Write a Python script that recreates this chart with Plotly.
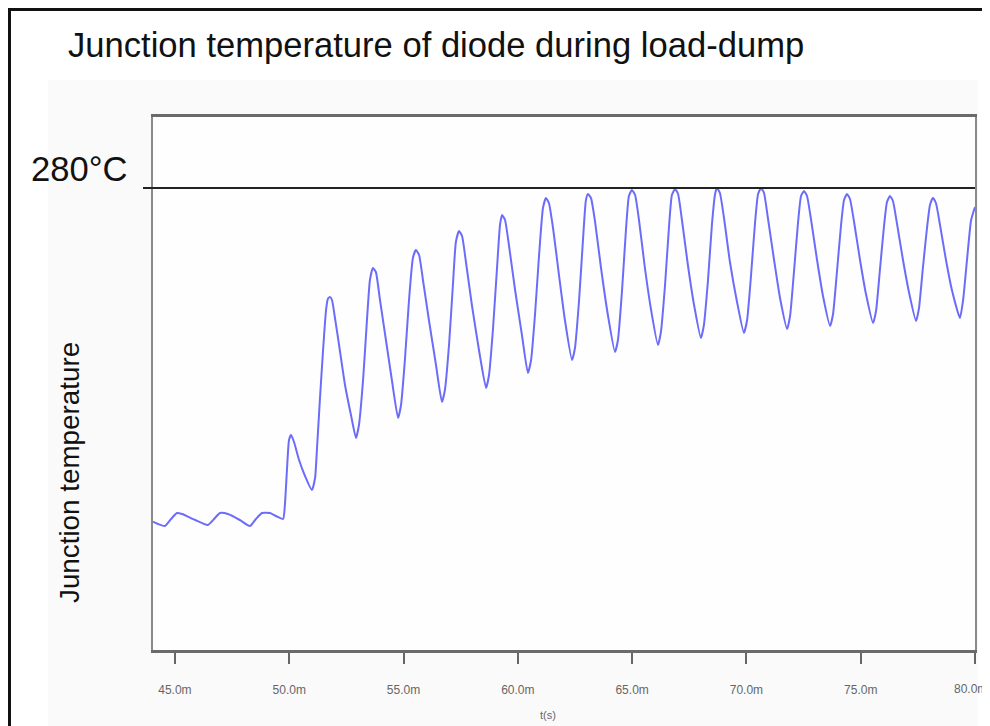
import plotly.graph_objects as go

# time in ms, junction temperature in degC (only the 280 degC level is labelled in the source)
time_ms = [
    44.04, 44.26, 44.56, 44.83, 45.09, 45.31, 45.88, 46.44, 46.71, 46.97, 47.32, 47.84, 48.28, 48.54, 48.81, 49.16, 49.42, 49.73,
    49.81, 49.90, 49.99, 50.08, 50.21, 50.43, 50.69, 50.99, 51.13, 51.21, 51.34, 51.48, 51.61, 51.69, 51.78, 51.87, 52.00, 52.18, 52.44, 52.70, 52.92,
    53.05, 53.23, 53.40, 53.53, 53.66, 53.79, 53.97, 54.23, 54.49, 54.76,
    54.89, 55.06, 55.24, 55.41, 55.54, 55.68, 55.85, 56.11, 56.42, 56.68,
    56.81, 56.99, 57.16, 57.29, 57.43, 57.56, 57.73, 57.99, 58.30, 58.61,
    58.74, 58.91, 59.09, 59.22, 59.31, 59.44, 59.61, 59.88, 60.18, 60.44,
    60.58, 60.75, 60.93, 61.10, 61.23, 61.36, 61.54, 61.80, 62.06, 62.37,
    62.50, 62.68, 62.85, 62.98, 63.07, 63.20, 63.38, 63.64, 63.94, 64.25,
    64.38, 64.56, 64.73, 64.86, 64.99, 65.13, 65.30, 65.56, 65.83, 66.13,
    66.26, 66.44, 66.61, 66.74, 66.88, 67.01, 67.18, 67.44, 67.71, 68.01,
    68.14, 68.32, 68.49, 68.63, 68.71, 68.84, 69.02, 69.28, 69.59, 69.89,
    70.03, 70.20, 70.38, 70.51, 70.64, 70.77, 70.94, 71.21, 71.47, 71.78,
    71.91, 72.08, 72.26, 72.39, 72.52, 72.65, 72.83, 73.09, 73.35, 73.66,
    73.79, 73.96, 74.14, 74.27, 74.40, 74.53, 74.71, 74.97, 75.23, 75.54,
    75.67, 75.84, 76.02, 76.15, 76.28, 76.41, 76.59, 76.85, 77.11, 77.42,
    77.55, 77.72, 77.90, 78.03, 78.16, 78.29, 78.47, 78.73, 78.99, 79.34,
    79.48, 79.65, 79.83, 80.00,
]
temp_c = [
    113.2, 112.0, 111.0, 114.5, 117.5, 117.0, 114.0, 111.5, 114.5, 117.5, 117.0, 114.0, 111.0, 114.5, 117.5, 117.5, 116.0, 114.5,
    121.5, 139.0, 154.0, 156.5, 153.0, 144.0, 136.0, 129.0, 135.0, 149.0, 174.0, 199.0, 219.0, 224.5, 225.5, 224.0, 215.0, 201.5, 181.5, 166.5, 155.0,
    161.5, 184.0, 214.0, 234.0, 240.0, 238.0, 224.0, 204.0, 184.0, 165.0,
    171.5, 194.0, 224.0, 245.0, 249.0, 246.5, 234.0, 214.0, 191.5, 173.0,
    179.0, 201.5, 231.5, 253.0, 258.5, 256.0, 243.0, 221.5, 199.0, 180.0,
    186.5, 209.0, 240.0, 261.5, 266.5, 264.0, 251.5, 229.0, 206.5, 187.5,
    194.0, 216.5, 246.5, 270.0, 275.0, 272.5, 260.0, 236.5, 214.0, 194.0,
    200.0, 224.0, 254.0, 274.0, 277.0, 275.0, 263.0, 240.0, 216.5, 198.0,
    204.0, 229.0, 259.0, 276.0, 279.0, 276.5, 264.0, 240.0, 219.0, 201.5,
    208.0, 231.5, 260.0, 276.5, 279.5, 277.0, 264.0, 241.5, 221.5, 205.0,
    211.5, 234.0, 261.5, 277.0, 280.0, 277.5, 265.0, 243.0, 223.0, 207.5,
    214.0, 236.0, 263.0, 277.0, 280.0, 277.5, 265.0, 244.0, 225.0, 209.5,
    216.0, 238.0, 263.0, 276.0, 278.5, 276.0, 264.0, 244.0, 226.0, 211.0,
    217.0, 238.0, 261.5, 274.0, 277.0, 274.5, 263.0, 244.0, 227.0, 212.5,
    218.5, 239.0, 261.0, 273.0, 276.0, 273.5, 262.0, 244.0, 228.0, 213.5,
    220.0, 240.0, 260.0, 271.5, 275.0, 272.5, 261.5, 244.0, 229.0, 215.0,
    224.0, 244.0, 264.0, 270.5,
]
tick_vals = [45, 50, 55, 60, 65, 70, 75, 80]
tick_text = ["45.0m", "50.0m", "55.0m", "60.0m", "65.0m", "70.0m", "75.0m", "80.0m"]
limit_c = 280
x_range = [44.04, 80.0]
y_range = [49.0, 315.5]

OFF = 8  # page body margin
W, H = 990 - OFF, 726 - OFF
# plot area in page pixels: x 153..975, y 117..650
L = 153 - OFF
R = W - (975 - OFF)
T = 117 - OFF
B = H - (650 - OFF)
pw, ph = W - L - R, H - T - B

def px(x):
    return (x - OFF - L) / pw

def py(y):
    return (H - B - (y - OFF)) / ph

tick_font = dict(family="Liberation Sans Narrow, Arial Narrow, sans-serif", size=12, color="#666")

fig = go.Figure()
fig.add_trace(go.Scatter(x=time_ms, y=temp_c, mode="lines",
                         line=dict(color="rgb(108,108,250)", width=2, shape="spline", smoothing=0.5),
                         hoverinfo="skip", showlegend=False))

shapes = [
    dict(type="rect", xref="paper", yref="paper", x0=px(48), x1=px(978), y0=py(740), y1=py(80),
         fillcolor="#fafafa", line=dict(width=0), layer="below"),
    dict(type="rect", xref="paper", yref="paper", x0=0, x1=1, y0=0, y1=1,
         fillcolor="#fefefe", line=dict(width=0), layer="below"),
    dict(type="rect", xref="paper", yref="paper", x0=px(9.5), x1=px(1010), y0=py(750), y1=py(9.5),
         fillcolor="rgba(0,0,0,0)", line=dict(color="#111", width=3)),
    dict(type="line", xref="paper", yref="y", x0=px(143), x1=1, y0=limit_c, y1=limit_c,
         line=dict(color="#222", width=2)),
]

annotations = [
    dict(text="280°C", xref="paper", yref="paper", x=px(29), y=py(169), xanchor="left", yanchor="middle",
         showarrow=False, font=dict(family="Liberation Sans, Arial, sans-serif", size=34.6, color="#111")),
    dict(text="Junction temperature", xref="paper", yref="paper", x=px(69), y=py(473), textangle=-90,
         xanchor="center", yanchor="middle", showarrow=False,
         font=dict(family="Liberation Sans, Arial, sans-serif", size=27.8, color="#111")),
    dict(text="Junction temperature of diode during load-dump", xref="paper", yref="paper",
         x=px(66), y=py(45), xanchor="left", yanchor="middle", showarrow=False,
         font=dict(family="Liberation Sans, Arial, sans-serif", size=34.6, color="#111")),
    dict(text="t(s)", xref="paper", yref="paper", x=px(548), y=py(715), xanchor="center", yanchor="middle",
         showarrow=False, font=dict(family="Liberation Sans Narrow, Arial Narrow, sans-serif", size=11, color="#666")),
    # last tick label would run past the page edge; keep it visible at the edge
    dict(text=tick_text[-1], xref="paper", yref="paper", x=px(989), y=py(689), xanchor="right", yanchor="middle",
         showarrow=False, font=tick_font),
]

fig.update_layout(
    width=W, height=H,
    margin=dict(l=L, r=R, t=T, b=B, pad=0),
    paper_bgcolor="white", plot_bgcolor="rgba(0,0,0,0)",
    shapes=shapes, annotations=annotations,
    xaxis=dict(range=x_range, tickvals=tick_vals, ticktext=tick_text,
               showgrid=False, zeroline=False, showline=True, linecolor="#6a6a6a", linewidth=3, mirror=True,
               ticks="outside", ticklen=11, tickwidth=2, tickcolor="#666",
               ticklabelstandoff=16,
               tickfont=tick_font),
    yaxis=dict(range=y_range, showticklabels=False, ticks="", showgrid=False, zeroline=False,
               showline=True, linecolor="#8a8a8a", linewidth=2, mirror=True),
)

fig.write_html("out.html")
